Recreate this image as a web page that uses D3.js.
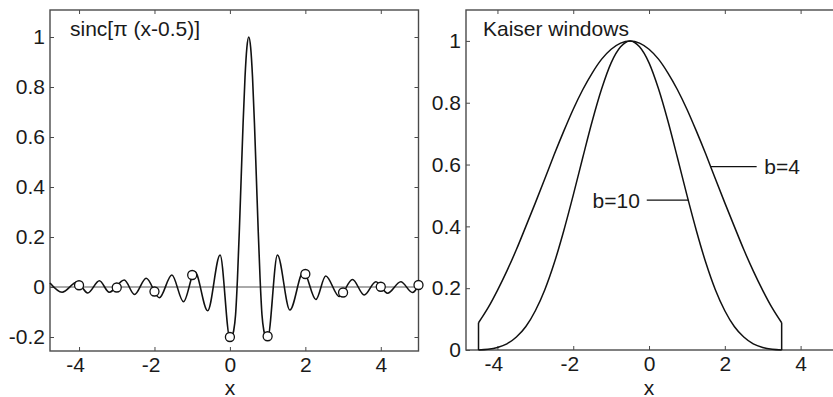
<!DOCTYPE html>
<html>
<head>
<meta charset="utf-8">
<script src="https://cdn.jsdelivr.net/npm/d3@7"></script>
<style>
  html, body { margin: 0; padding: 0; background: #fff; }
  svg { display: block; }
  text { font-family: "Liberation Sans", Arial, Helvetica, sans-serif; fill: #1a1a1a; }
</style>
</head>
<body>
<svg id="chart" width="833" height="397"></svg>
<script>
// ---------------- data ----------------
// Left panel: sinc curve
const sincX = [-4.77, -4.45, -4.05, -3.77, -3.46, -3.2, -2.8, -2.53, -2.22, -1.87, -1.54, -1.23, -0.93, -0.59, -0.26,
  0, 0.05, 0.1, 0.15, 0.2, 0.25, 0.3, 0.35, 0.4, 0.45, 0.5, 0.55, 0.6, 0.65, 0.7, 0.75, 0.8, 0.85, 0.9, 0.95, 1.0,
  1.26, 1.59, 1.95, 2.28, 2.54, 2.9, 3.25, 3.56, 3.87, 4.18, 4.53, 4.84, 5.0];
const sincY = [0.016, -0.021, 0.02, -0.024, 0.025, -0.021, 0.028, -0.03, 0.035, -0.043, 0.048, -0.059, 0.062, -0.095, 0.128,
  -0.205, -0.198, -0.175, -0.111, 0.033, 0.226, 0.443, 0.657, 0.838, 0.958, 1.0, 0.958, 0.838, 0.657, 0.443, 0.226, 0.033, -0.111, -0.175, -0.198, -0.205,
  0.128, -0.092, 0.062, -0.05, 0.044, -0.038, 0.03, -0.032, 0.021, -0.025, 0.021, -0.022, 0.005];
// Left panel: sample circles
const sampleX = [-4, -3, -2, -1, 0, 1, 2, 3, 4, 5];
const sampleY = [0.007, -0.002, -0.018, 0.048, -0.2, -0.197, 0.052, -0.022, 0.001, 0.008];

// Right panel: Kaiser windows
const kaiserX = [-4.5, -4.25, -4, -3.75, -3.5, -3.25, -3, -2.75, -2.5, -2.25, -2, -1.75, -1.5, -1.25, -1, -0.75, -0.5,
  -0.25, 0, 0.25, 0.5, 0.75, 1, 1.25, 1.5, 1.75, 2, 2.25, 2.5, 2.75, 3, 3.25, 3.5];
const kaiserB4 = [0.088, 0.136, 0.193, 0.256, 0.325, 0.400, 0.476, 0.554, 0.633, 0.708, 0.779, 0.842, 0.896, 0.941, 0.973, 0.993, 1,
  0.993, 0.973, 0.941, 0.896, 0.842, 0.779, 0.708, 0.633, 0.554, 0.476, 0.400, 0.325, 0.256, 0.193, 0.136, 0.088];
const kaiserB10 = [0.0004, 0.0026, 0.0084, 0.020, 0.042, 0.076, 0.127, 0.195, 0.282, 0.386, 0.501, 0.622, 0.740, 0.845, 0.929, 0.981, 1,
  0.981, 0.929, 0.845, 0.740, 0.622, 0.501, 0.386, 0.282, 0.195, 0.127, 0.076, 0.042, 0.020, 0.0084, 0.0026, 0.0004];

// Ticks
const xTicks = [-4, -2, 0, 2, 4];
const xTickLabels = ["-4", "-2", "0", "2", "4"];
const yTicksLeft = [-0.2, 0, 0.2, 0.4, 0.6, 0.8, 1];
const yTickLabelsLeft = ["-0.2", "0", "0.2", "0.4", "0.6", "0.8", "1"];
const yTicksRight = [0, 0.2, 0.4, 0.6, 0.8, 1];
const yTickLabelsRight = ["0", "0.2", "0.4", "0.6", "0.8", "1"];

const titles = ["sinc[π (x-0.5)]", "Kaiser windows"];
const seriesLabels = ["b=4", "b=10"];

// ---------------- layout ----------------
const svg = d3.select("#chart");
const FONT = 21;
const frameColor = "#4a4a4a";
const inkColor = "#111";

const panels = [
  { x0: 50, x1: 418.5, y0: 351, y1: 10, xDom: [-4.77, 5.0], yDom: [-0.256, 1.108], yTicks: yTicksLeft, yLabels: yTickLabelsLeft, rightTicks: true },
  { x0: 466, x1: 838.5, y0: 350, y1: 10, xDom: [-4.83, 5.0], yDom: [0, 1.1], yTicks: yTicksRight, yLabels: yTickLabelsRight, rightTicks: false }
];

function setupPanel(p, idx) {
  const x = d3.scaleLinear().domain(p.xDom).range([p.x0, p.x1]);
  const y = d3.scaleLinear().domain(p.yDom).range([p.y0, p.y1]);
  const g = svg.append("g");

  const bx = g.append("g").attr("transform", `translate(0,${p.y0})`)
    .call(d3.axisBottom(x).tickValues(xTicks).tickSize(-4).tickPadding(6)
      .tickFormat((d, i) => xTickLabels[i]));
  const tx = g.append("g").attr("transform", `translate(0,${p.y1})`)
    .call(d3.axisTop(x).tickValues(xTicks).tickSize(-4).tickFormat(""));
  const ly = g.append("g").attr("transform", `translate(${p.x0},0)`)
    .call(d3.axisLeft(y).tickValues(p.yTicks).tickSize(-4).tickPadding(5)
      .tickFormat((d, i) => p.yLabels[i]));
  const axes = [bx, tx, ly];
  if (p.rightTicks) {
    const ry = g.append("g").attr("transform", `translate(${p.x1},0)`)
      .call(d3.axisRight(y).tickValues(p.yTicks).tickSize(-4).tickFormat(""));
    axes.push(ry);
  }
  axes.forEach(a => {
    a.select(".domain").remove();
    a.selectAll(".tick line").attr("stroke", frameColor).attr("stroke-width", 1);
    a.selectAll("text").attr("font-size", FONT).attr("fill", "#1a1a1a")
      .attr("font-family", '"Liberation Sans", Arial, sans-serif');
  });
  bx.selectAll(".tick text").attr("dx", (d) => d < 0 ? -4 : 0);

  g.append("rect")
    .attr("x", p.x0).attr("y", p.y1)
    .attr("width", p.x1 - p.x0).attr("height", p.y0 - p.y1)
    .attr("fill", "none").attr("stroke", frameColor).attr("stroke-width", 1.4);

  g.append("text").attr("x", x(0)).attr("y", 394.5).attr("text-anchor", "middle")
    .attr("font-size", FONT).text("x");

  return { g, x, y };
}

// ---------------- left panel ----------------
const L = setupPanel(panels[0], 0);
L.g.append("line")
  .attr("x1", panels[0].x0).attr("x2", panels[0].x1)
  .attr("y1", L.y(0)).attr("y2", L.y(0))
  .attr("stroke", "#555").attr("stroke-width", 1);

const sincData = sincX.map((v, i) => ({ x: v, y: sincY[i] }));
L.g.append("path")
  .datum(sincData)
  .attr("fill", "none").attr("stroke", inkColor).attr("stroke-width", 1.6)
  .attr("d", d3.line().x(d => L.x(d.x)).y(d => L.y(d.y)).curve(d3.curveMonotoneX));

L.g.selectAll("circle.sample")
  .data(sampleX.map((v, i) => ({ x: v, y: sampleY[i] })))
  .join("circle").attr("class", "sample")
  .attr("cx", d => L.x(d.x)).attr("cy", d => L.y(d.y)).attr("r", 4.5)
  .attr("fill", "#fff").attr("stroke", inkColor).attr("stroke-width", 1.3);

L.g.append("text").attr("x", 70).attr("y", 36).attr("font-size", FONT).text(titles[0]);

// ---------------- right panel ----------------
const R = setupPanel(panels[1], 1);
const kLine = d3.line().x(d => R.x(d.x)).y(d => R.y(d.y)).curve(d3.curveMonotoneX);
const segLine = d3.line().x(d => R.x(d.x)).y(d => R.y(d.y));
[kaiserB4, kaiserB10].forEach(vals => {
  const data = kaiserX.map((v, i) => ({ x: v, y: vals[i] }));
  R.g.append("path").datum(data)
    .attr("fill", "none").attr("stroke", inkColor).attr("stroke-width", 1.5)
    .attr("d", kLine);
  const first = data[0], last = data[data.length - 1];
  R.g.append("path").datum([{ x: first.x, y: 0 }, first])
    .attr("fill", "none").attr("stroke", inkColor).attr("stroke-width", 1.5).attr("d", segLine);
  R.g.append("path").datum([last, { x: last.x, y: 0 }])
    .attr("fill", "none").attr("stroke", inkColor).attr("stroke-width", 1.5).attr("d", segLine);
});

R.g.append("text").attr("x", 483).attr("y", 35.5).attr("font-size", FONT).text(titles[1]);

const annotations = [
  { label: seriesLabels[0], cx: 1.63, cy: 0.593, lx: 2.84, tx: 3.04, anchor: "start", ty: 0.568 },
  { label: seriesLabels[1], cx: 1.04, cy: 0.485, lx: -0.06, tx: -0.24, anchor: "end", ty: 0.461 }
];
annotations.forEach(a => {
  R.g.append("line")
    .attr("x1", R.x(a.cx)).attr("y1", R.y(a.cy))
    .attr("x2", R.x(a.lx)).attr("y2", R.y(a.cy))
    .attr("stroke", inkColor).attr("stroke-width", 1.3);
  R.g.append("text").attr("x", R.x(a.tx)).attr("y", R.y(a.ty))
    .attr("text-anchor", a.anchor).attr("font-size", FONT).text(a.label);
});
</script>
</body>
</html>
